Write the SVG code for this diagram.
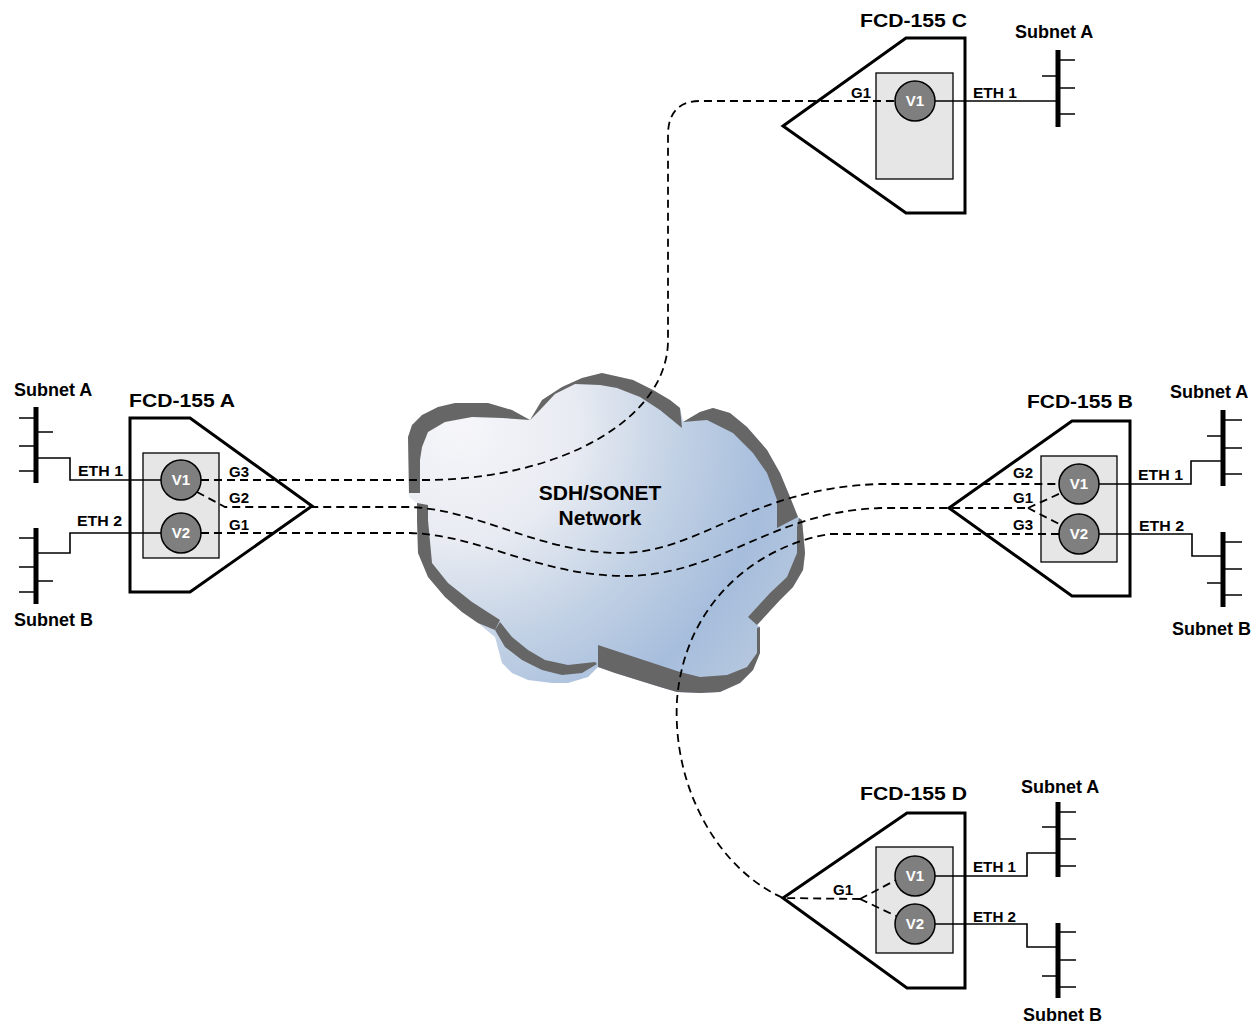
<svg xmlns="http://www.w3.org/2000/svg" width="1260" height="1023" viewBox="0 0 1260 1023">
  <style>
    .outline { fill: #ffffff; stroke: #000000; stroke-width: 3; stroke-linejoin: miter; }
    .card { fill: #e6e6e6; stroke: #000000; stroke-width: 1.3; }
    .vc { fill: #7f7f7f; stroke: #000000; stroke-width: 1.5; }
    .vt { fill: #ffffff; font-family: "Liberation Sans", Arial, sans-serif; font-weight: bold; font-size: 15px; text-anchor: middle; }
    .title { font-family: "Liberation Sans", Arial, sans-serif; font-weight: bold; font-size: 19px; fill: #000000; }
    .subnet { font-family: "Liberation Sans", Arial, sans-serif; font-weight: bold; font-size: 18px; fill: #000000; }
    .port { font-family: "Liberation Sans", Arial, sans-serif; font-weight: bold; font-size: 15px; fill: #000000; }
    .cloudtext { font-family: "Liberation Sans", Arial, sans-serif; font-weight: bold; font-size: 21px; fill: #000000; text-anchor: middle; }
    .bus { stroke: #000000; stroke-width: 5; }
    .wire { stroke: #000000; stroke-width: 1.6; fill: none; }
    .link { stroke: #000000; stroke-width: 1.8; stroke-dasharray: 8 5; fill: none; }
    .shade { fill: #666666; }
  </style>
  <defs>
    <radialGradient id="sky" gradientUnits="userSpaceOnUse" cx="460" cy="425" r="390">
      <stop offset="0" stop-color="#f6f6fa"/>
      <stop offset="0.3" stop-color="#e8ebf2"/>
      <stop offset="0.55" stop-color="#c3d2e5"/>
      <stop offset="0.8" stop-color="#a6bddc"/>
      <stop offset="1" stop-color="#b8c9df"/>
    </radialGradient>
  </defs>

  <rect width="1260" height="1023" fill="#ffffff"/>

  <!-- SDH/SONET cloud: light body with dark shaded rims -->
  <g id="cloud">
    <path fill="url(#sky)" d="M409,497 L408,437 L412,425 L422,415 L438,407 L455,403 L488,403 L512,410 L530,420 L542,400 L562,387 L582,378 L602,373 L633,380 L653,390 L670,400 L680,408 L683,422 L700,412 L713,408 L730,413 L747,427 L767,450 L780,473 L790,497 L798,517 L802,520 L805,553 L803,570 L793,587 L780,600 L757,625 L760,627 L760,653 L753,670 L740,683 L720,692 L700,693 L677,692 L660,687 L615,673 L598,667 L588,677 L568,683 L552,683 L528,680 L512,673 L502,663 L495,637 L478,623 L462,612 L445,597 L428,577 L418,553 L417,520 L417,503 Z"/>
    <path class="shade" d="M409,493 L408,437 L412,425 L422,415 L438,407 L455,403 L488,403 L512,410 L530,420 L502,418 L472,417 L445,422 L428,432 L422,447 L420,460 L420,493 Z"/>
    <path class="shade" d="M530,420 L542,400 L562,387 L582,378 L602,373 L633,380 L653,390 L670,400 L680,408 L682,428 L660,410 L640,397 L617,388 L600,385 L575,384 L555,394 L540,410 Z"/>
    <path class="shade" d="M683,422 L700,412 L713,408 L730,413 L747,427 L767,450 L780,473 L790,497 L798,517 L777,528 L777,500 L767,473 L753,453 L733,433 L707,420 Z"/>
    <path class="shade" d="M799,518 L802,520 L805,553 L803,570 L793,587 L780,600 L757,625 L748,617 L770,593 L787,577 L797,553 L797,527 Z"/>
    <path class="shade" d="M598,645 L680,672 L700,677 L727,675 L747,667 L757,653 L757,628 L760,627 L760,653 L753,670 L740,683 L720,692 L700,693 L677,692 L660,687 L615,673 L598,667 Z"/>
    <path class="shade" d="M500,622 L512,637 L528,650 L545,660 L568,665 L595,662 L597,664 L582,673 L562,675 L542,670 L522,660 L505,647 L495,630 Z"/>
    <path class="shade" d="M417,503 L428,505 L428,520 L432,563 L448,583 L472,602 L500,620 L495,630 L478,623 L462,612 L445,597 L428,577 L418,553 L417,520 Z"/>
    <text class="cloudtext" x="600" y="500">SDH/SONET</text>
    <text class="cloudtext" x="600" y="525">Network</text>
  </g>

  <!-- FCD-155 A -->
  <g id="fcd-a">
    <polygon class="outline" points="130,418 190,418 312,506 190,592 130,592"/>
    <rect class="card" x="143" y="453" width="76" height="105"/>
    <text class="title" x="129" y="407" textLength="106" lengthAdjust="spacingAndGlyphs">FCD-155 A</text>
    <path class="wire" d="M161,480 H70 V458 H36 M161,533 H70 V553 H36"/>
    <line class="bus" x1="36" y1="407" x2="36" y2="483"/>
    <path class="wire" d="M19,418 H36 M36,432 H53 M19,446 H36 M19,471 H36"/>
    <line class="bus" x1="36" y1="528" x2="36" y2="604"/>
    <path class="wire" d="M19,538 H36 M19,567 H36 M36,581 H53 M19,592 H36"/>
    <text class="subnet" x="14" y="396">Subnet A</text>
    <text class="subnet" x="14" y="626">Subnet B</text>
    <text class="port" x="78" y="476" textLength="45" lengthAdjust="spacingAndGlyphs">ETH 1</text>
    <text class="port" x="77" y="526" textLength="45" lengthAdjust="spacingAndGlyphs">ETH 2</text>
    <text class="port" x="229" y="477">G3</text>
    <text class="port" x="229" y="503">G2</text>
    <text class="port" x="229" y="530">G1</text>
    <circle class="vc" cx="181" cy="480" r="20"/>
    <text class="vt" x="181" y="485">V1</text>
    <circle class="vc" cx="181" cy="533" r="20"/>
    <text class="vt" x="181" y="538">V2</text>
  </g>

  <!-- FCD-155 B -->
  <g id="fcd-b">
    <polygon class="outline" points="949,508 1072,421 1130,421 1130,596 1072,596"/>
    <rect class="card" x="1041" y="456" width="76" height="106"/>
    <text class="title" x="1027" y="408" textLength="106" lengthAdjust="spacingAndGlyphs">FCD-155 B</text>
    <path class="wire" d="M1099,484 H1191 V461 H1223 M1099,534 H1192 V556 H1223"/>
    <line class="bus" x1="1223" y1="410" x2="1223" y2="486"/>
    <path class="wire" d="M1223,420 H1242 M1207,436 H1223 M1223,448 H1242 M1223,474 H1242"/>
    <line class="bus" x1="1223" y1="532" x2="1223" y2="607"/>
    <path class="wire" d="M1223,542 H1242 M1223,569 H1242 M1207,583 H1223 M1223,595 H1242"/>
    <text class="subnet" x="1170" y="398">Subnet A</text>
    <text class="subnet" x="1172" y="635">Subnet B</text>
    <text class="port" x="1138" y="480" textLength="45" lengthAdjust="spacingAndGlyphs">ETH 1</text>
    <text class="port" x="1139" y="531" textLength="45" lengthAdjust="spacingAndGlyphs">ETH 2</text>
    <text class="port" x="1013" y="478">G2</text>
    <text class="port" x="1013" y="503">G1</text>
    <text class="port" x="1013" y="530">G3</text>
    <circle class="vc" cx="1079" cy="484" r="20"/>
    <text class="vt" x="1079" y="489">V1</text>
    <circle class="vc" cx="1079" cy="534" r="20"/>
    <text class="vt" x="1079" y="539">V2</text>
  </g>

  <!-- FCD-155 C -->
  <g id="fcd-c">
    <polygon class="outline" points="783,126 906,38 965,38 965,213 906,213"/>
    <rect class="card" x="876" y="73" width="77" height="106"/>
    <text class="title" x="860" y="27" textLength="107" lengthAdjust="spacingAndGlyphs">FCD-155 C</text>
    <path class="wire" d="M935,101 H1058"/>
    <line class="bus" x1="1058" y1="50" x2="1058" y2="127"/>
    <path class="wire" d="M1058,60 H1075 M1042,76 H1058 M1058,88 H1075 M1058,114 H1075"/>
    <text class="subnet" x="1015" y="38">Subnet A</text>
    <text class="port" x="973" y="98" textLength="44" lengthAdjust="spacingAndGlyphs">ETH 1</text>
    <text class="port" x="851" y="98">G1</text>
    <circle class="vc" cx="915" cy="101" r="20"/>
    <text class="vt" x="915" y="106">V1</text>
  </g>

  <!-- FCD-155 D -->
  <g id="fcd-d">
    <polygon class="outline" points="783,898 907,813 965,813 965,988 907,988"/>
    <rect class="card" x="876" y="847" width="77" height="106"/>
    <text class="title" x="860" y="800" textLength="107" lengthAdjust="spacingAndGlyphs">FCD-155 D</text>
    <path class="wire" d="M935,876 H1027 V853 H1058 M935,924 H1027 V947 H1058"/>
    <line class="bus" x1="1058" y1="802" x2="1058" y2="877"/>
    <path class="wire" d="M1058,812 H1076 M1042,827 H1058 M1058,839 H1076 M1058,866 H1076"/>
    <line class="bus" x1="1058" y1="923" x2="1058" y2="998"/>
    <path class="wire" d="M1058,932 H1076 M1058,960 H1076 M1042,976 H1058 M1058,987 H1076"/>
    <text class="subnet" x="1021" y="793">Subnet A</text>
    <text class="subnet" x="1023" y="1021">Subnet B</text>
    <text class="port" x="973" y="872" textLength="43" lengthAdjust="spacingAndGlyphs">ETH 1</text>
    <text class="port" x="973" y="922" textLength="43" lengthAdjust="spacingAndGlyphs">ETH 2</text>
    <text class="port" x="833" y="895">G1</text>
    <circle class="vc" cx="915" cy="876" r="20"/>
    <text class="vt" x="915" y="881">V1</text>
    <circle class="vc" cx="915" cy="924" r="20"/>
    <text class="vt" x="915" y="929">V2</text>
  </g>

  <!-- virtual concatenation paths across the network -->
  <g id="connectors">
    <path id="a-g3-c-g1" class="link" d="M201,480 H430 C560,478 668,420 668,340 V135 C668,112 680,101 700,101 H895"/>
    <path id="a-g2-b-g2" class="link" d="M197,492 L225,507 H410 C480,510 540,553 620,553 C700,553 750,488 880,484 H1059"/>
    <path id="a-g1-b-g1" class="link" d="M201,533 H410 C480,535 540,576 625,576 C720,576 770,512 880,508 H1028 M1028,508 L1061,493 M1028,508 L1061,525"/>
    <path id="d-g1-b-g3" class="link" d="M1059,534 H830 C760,545 685,600 677,700 C672,790 720,870 783,898 L860,899 M860,899 L896,880 M860,899 L896,916"/>
  </g>
</svg>
